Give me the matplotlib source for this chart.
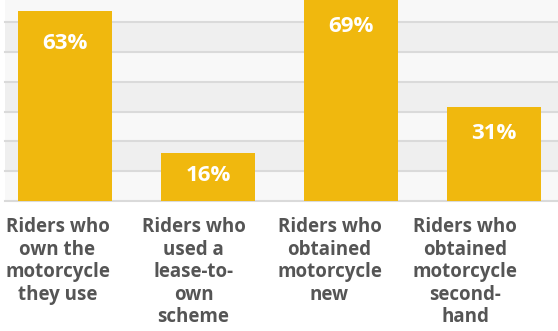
import matplotlib
matplotlib.use("Agg")
import matplotlib.pyplot as plt
import numpy as np

# Survey shares of riders (%)
categories = [
    "Riders who\nown the\nmotorcycle\nthey use",
    "Riders who\nused a\nlease-to-\nown\nscheme",
    "Riders who\nobtained\nmotorcycle\nnew",
    "Riders who\nobtained\nmotorcycle\nsecond-\nhand",
]
values = [63, 16, 69, 31]
value_labels = ["63%", "16%", "69%", "31%"]

BAR_COLOR = "#F0B80E"
BAND_LIGHT = "#F8F8F8"
BAND_DARK = "#EFEFEF"
GRID_COLOR = "#DADADA"
TEXT_COLOR = "#555555"
FONT = ["Open Sans", "DejaVu Sans"]

W, H = 558, 331
fig = plt.figure(figsize=(W / 100, H / 100), dpi=100)
fig.patch.set_facecolor("white")

ax = fig.add_axes([5 / W, 130 / H, 553 / W, 201 / H])
ax.set_facecolor(BAND_LIGHT)

# Gridlines split the range up to the largest value into seven equal steps
grid = np.linspace(0, max(values), 8)
for i in range(len(grid) - 1):
    if i % 2 == 1:
        ax.axhspan(grid[i], grid[i + 1], color=BAND_DARK, lw=0, zorder=0)
for g in grid:
    ax.axhline(g, color=GRID_COLOR, lw=1.5, zorder=1, clip_on=False)

x = np.arange(len(values))
ax.bar(x, values, width=0.657, color=BAR_COLOR, zorder=2, linewidth=0)

for xi, v, lab in zip(x, values, value_labels):
    ax.text(xi, v - (6.4 + 0.07 * v), lab, ha="center", va="center",
            color="white", fontsize=16, fontweight="bold", family=FONT,
            zorder=3)

ax.set_xlim(-0.418, 3.446)
ax.set_ylim(0, 66.5)
ax.set_xticks([])
ax.set_yticks([])
for s in ax.spines.values():
    s.set_visible(False)

# Category captions beneath the plot
for i, cat in enumerate(categories):
    fig.text(0.103 + 0.2437 * i, 0.3444, cat, ha="center", va="top",
             color=TEXT_COLOR, fontsize=13.5, fontweight="bold",
             family=FONT, linespacing=1.17)

fig.savefig("out.png", dpi=100, facecolor="white")
